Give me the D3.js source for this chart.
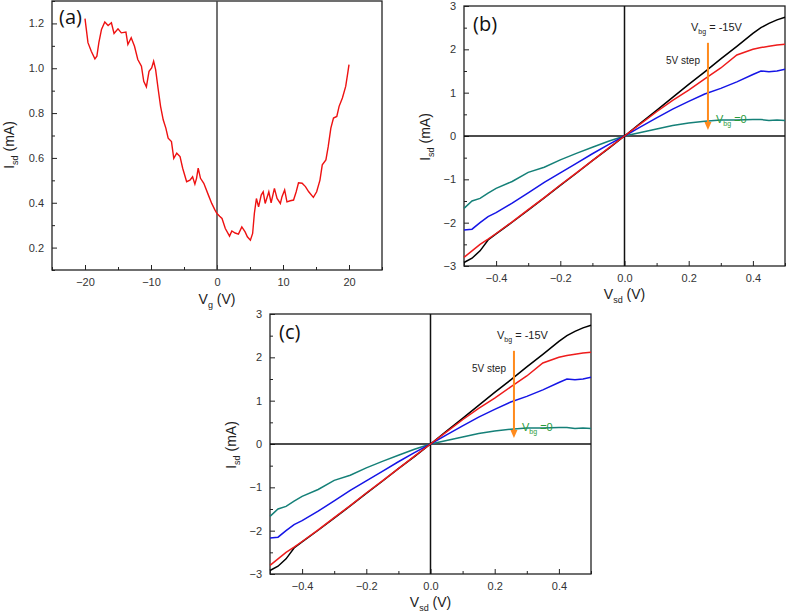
<!DOCTYPE html>
<html><head><meta charset="utf-8">
<script src="https://cdn.jsdelivr.net/npm/d3@7"></script>
<style>
html,body{margin:0;padding:0;background:#fff;}
svg{display:block;}
text{font-family:"Liberation Sans",Arial,sans-serif;}
</style></head>
<body>
<svg id="chart" width="787" height="615"></svg>
<script>
// ---- Panel (a): I_sd vs V_g ----
const VG = [-20.0,-19.55,-19.05,-18.5,-18.2,-17.9,-17.5,-17.0,-16.5,-16.0,-15.6,-15.0,-14.5,-13.8,-13.5,-13.0,-12.5,-12.0,-11.45,-11.1,-10.7,-10.3,-9.9,-9.6,-9.3,-8.9,-8.55,-8.15,-7.75,-7.4,-6.9,-6.55,-6.1,-5.6,-5.2,-4.6,-4.1,-3.7,-3.35,-3.1,-2.85,-2.5,-2.0,-1.3,-0.8,-0.3,0.0,0.4,0.76,1.26,1.9,2.25,2.75,3.25,3.76,4.26,4.6,5.06,5.4,5.66,5.97,6.3,6.7,7.0,7.3,7.85,8.2,8.7,9.1,9.6,9.85,10.25,10.6,11.1,11.6,12.0,12.35,12.9,13.4,13.9,14.6,15.1,15.6,15.95,16.5,16.85,17.25,17.65,18.15,18.5,19.0,19.5,19.85,20.0];
const ISD_A = [1.221,1.114,1.076,1.042,1.054,1.114,1.173,1.206,1.191,1.203,1.155,1.176,1.158,1.161,1.106,1.136,1.098,1.039,1.009,0.942,0.917,0.986,1.001,1.031,0.994,0.904,0.830,0.770,0.733,0.688,0.673,0.598,0.621,0.606,0.554,0.494,0.501,0.516,0.483,0.509,0.554,0.509,0.487,0.434,0.397,0.367,0.352,0.340,0.330,0.285,0.251,0.274,0.265,0.260,0.292,0.270,0.248,0.233,0.263,0.352,0.419,0.382,0.434,0.449,0.397,0.449,0.400,0.464,0.419,0.397,0.427,0.457,0.404,0.409,0.412,0.449,0.489,0.487,0.472,0.449,0.424,0.449,0.501,0.569,0.591,0.650,0.733,0.778,0.785,0.830,0.867,0.919,0.986,1.016];
const A_XTICKS = [-20,-10,0,10,20];
const A_XMINOR = [-25,-15,-5,5,15,25];
const A_YTICKS = [0.2,0.4,0.6,0.8,1.0,1.2];
const A_YMINOR = [0.1,0.3,0.5,0.7,0.9,1.1,1.3];

// ---- Panels (b) and (c): I_sd vs V_sd at several back-gate voltages ----
const VSD = [-0.5,-0.475,-0.45,-0.425,-0.4,-0.35,-0.3,-0.25,-0.2,-0.15,-0.1,-0.05,0,0.05,0.1,0.15,0.2,0.25,0.3,0.35,0.4,0.425,0.45,0.475,0.5];
const I_VBG_M15 = [-2.92,-2.82,-2.65,-2.40,-2.26,-1.99,-1.71,-1.43,-1.14,-0.86,-0.57,-0.29,0,0.30,0.59,0.89,1.19,1.48,1.78,2.07,2.37,2.50,2.60,2.68,2.74];
const I_VBG_M10 = [-2.80,-2.65,-2.50,-2.38,-2.25,-1.98,-1.70,-1.42,-1.13,-0.85,-0.57,-0.28,0,0.28,0.56,0.82,1.06,1.32,1.57,1.87,2.00,2.04,2.07,2.10,2.12];
const I_VBG_M5 = [-2.17,-2.15,-2.00,-1.86,-1.77,-1.55,-1.31,-1.07,-0.85,-0.63,-0.41,-0.20,0,0.21,0.42,0.62,0.80,0.97,1.10,1.25,1.42,1.50,1.48,1.50,1.54];
const I_VBG_0 = [-1.67,-1.50,-1.44,-1.32,-1.21,-1.05,-0.84,-0.72,-0.55,-0.40,-0.26,-0.12,0,0.08,0.16,0.24,0.30,0.34,0.37,0.37,0.38,0.38,0.36,0.37,0.36];
const SERIES_NAMES = ["-15V","-10V","-5V","0V"];
const SERIES_COLORS = ["#000000","#ee1c1c","#1515e6","#158078"];
const IV_XTICKS = [-0.4,-0.2,0.0,0.2,0.4];
const IV_XMINOR = [-0.5,-0.3,-0.1,0.1,0.3,0.5];
const IV_YTICKS = [-3,-2,-1,0,1,2,3];
const IV_YMINOR = [-2.5,-1.5,-0.5,0.5,1.5,2.5];
const ARROW = {x:0.26, y0:2.15, y1:0.14};

const svg = d3.select("#chart");
const TICKC = "#333";

function axes(g, x, y, xt, xm, yt, ym, xfmt, yfmt) {
  const [x0,x1] = x.range(), [y0,y1] = y.range(); // y0 bottom
  const ax = g.append("g").attr("transform",`translate(0,${y0})`)
    .call(d3.axisBottom(x).tickValues(xt).tickSize(-5).tickPadding(8).tickFormat(xfmt));
  const axm = g.append("g").attr("transform",`translate(0,${y0})`)
    .call(d3.axisBottom(x).tickValues(xm).tickSize(-3).tickFormat(""));
  const ay = g.append("g").attr("transform",`translate(${x0},0)`)
    .call(d3.axisLeft(y).tickValues(yt).tickSize(-5).tickPadding(8).tickFormat(yfmt));
  const aym = g.append("g").attr("transform",`translate(${x0},0)`)
    .call(d3.axisLeft(y).tickValues(ym).tickSize(-3).tickFormat(""));
  [ax,axm,ay,aym].forEach(a=>{
    a.select(".domain").remove();
    a.selectAll("line").attr("stroke","#222").attr("stroke-width",1);
    a.selectAll("text").attr("fill",TICKC).style("font-size","11px").style("font-family","Liberation Sans, Arial, sans-serif");
  });
  g.append("rect").attr("x",x0).attr("y",y1).attr("width",x1-x0).attr("height",y0-y1)
    .attr("fill","none").attr("stroke","#222").attr("stroke-width",1.3);
}

function ylabel(g, cx, cy, main, sub, rest) {
  const t = g.append("text").attr("transform",`translate(${cx},${cy}) rotate(-90)`)
    .attr("text-anchor","middle").attr("fill","#222").style("font-size","14px");
  t.append("tspan").text(main);
  t.append("tspan").text(sub).style("font-size","9px").attr("dy",4);
  t.append("tspan").text(rest).attr("dy",-4);
}
function xlabel(g, cx, cy, main, sub, rest) {
  const t = g.append("text").attr("x",cx).attr("y",cy)
    .attr("text-anchor","middle").attr("fill","#222").style("font-size","14px");
  t.append("tspan").text(main);
  t.append("tspan").text(sub).style("font-size","9px").attr("dy",4);
  t.append("tspan").text(rest).attr("dy",-4);
}

// ---------- Panel (a) ----------
{
  const g = svg.append("g");
  const x = d3.scaleLinear().domain([-25,25]).range([52,382]);
  const y = d3.scaleLinear().domain([0.1,1.3]).range([270,1]);
  axes(g, x, y, A_XTICKS, A_XMINOR, A_YTICKS, A_YMINOR, d3.format("d"), d3.format(".1f"));
  g.append("line").attr("x1",x(0)).attr("x2",x(0)).attr("y1",y(0.1)).attr("y2",y(1.3))
    .attr("stroke","#444").attr("stroke-width",1.5);
  const data = VG.map((v,i)=>[v,ISD_A[i]]);
  g.append("path").datum(data).attr("fill","none").attr("stroke","#ee1111").attr("stroke-width",1.4)
    .attr("d", d3.line().x(d=>x(d[0])).y(d=>y(d[1])));
  g.append("text").attr("x",59).attr("y",24).text("(a)").attr("fill","#111")
    .style("font-family","Open Sans, sans-serif").style("font-size","20px");
  xlabel(g, 217, 304, "V", "g", " (V)");
  ylabel(g, 14, 145, "I", "sd", " (mA)");
}

// ---------- Panels (b), (c) ----------
function ivPanel(ox, oy, tag) {
  const g = svg.append("g");
  const x = d3.scaleLinear().domain([-0.5,0.5]).range([ox, ox+321]);
  const y = d3.scaleLinear().domain([-3,3]).range([oy+260, oy]);
  axes(g, x, y, IV_XTICKS, IV_XMINOR, IV_YTICKS, IV_YMINOR, d3.format(".1f"), d3.format("d"));
  g.append("line").attr("x1",x(0)).attr("x2",x(0)).attr("y1",y(-3)).attr("y2",y(3))
    .attr("stroke","#111").attr("stroke-width",1.5);
  g.append("line").attr("x1",x(-0.5)).attr("x2",x(0.5)).attr("y1",y(0)).attr("y2",y(0))
    .attr("stroke","#111").attr("stroke-width",1.5);
  const all = [I_VBG_M15, I_VBG_M10, I_VBG_M5, I_VBG_0];
  const line = d3.line().x(d=>x(d[0])).y(d=>y(d[1])).curve(d3.curveLinear);
  [3,2,0,1].forEach(k=>{
    const data = VSD.map((v,i)=>[v, all[k][i]]);
    g.append("path").datum(data).attr("fill","none").attr("stroke",SERIES_COLORS[k])
      .attr("stroke-width",1.5).attr("d",line);
  });
  // arrow
  const ax = x(ARROW.x);
  g.append("line").attr("x1",ax).attr("x2",ax).attr("y1",y(ARROW.y0)).attr("y2",y(ARROW.y1)-7)
    .attr("stroke","#ff8a1c").attr("stroke-width",2);
  g.append("path").attr("d",`M${ax-3.5},${y(ARROW.y1)-8} L${ax+3.5},${y(ARROW.y1)-8} L${ax},${y(ARROW.y1)} Z`)
    .attr("fill","#ff8a1c");
  // annotations
  const t1 = g.append("text").attr("x",ax-17).attr("y",y(2.42)).attr("fill","#222").style("font-size","11px");
  t1.append("tspan").text("V");
  t1.append("tspan").text("bg").style("font-size","7px").attr("dy",3);
  t1.append("tspan").text(" = -15V").attr("dy",-3);
  g.append("text").attr("x",ax-8).attr("y",y(1.67)).attr("text-anchor","end")
    .attr("fill","#222").style("font-size","10px").text("5V step");
  const t2 = g.append("text").attr("x",ax+8).attr("y",y(0.29)).attr("fill","#2a9a3a").style("font-size","11px");
  t2.append("tspan").text("V");
  t2.append("tspan").text("bg").style("font-size","7px").attr("dy",3);
  t2.append("tspan").text(" =0").attr("dy",-3);
  g.append("text").attr("x",ox+9).attr("y",oy+25).text(tag).attr("fill","#111")
    .style("font-family","Open Sans, sans-serif").style("font-size","20px");
  xlabel(g, x(0), oy+293, "V", "sd", " (V)");
  ylabel(g, ox-34, oy+131, "I", "sd", " (mA)");
}
ivPanel(464, 6, "(b)");
ivPanel(270, 314, "(c)");
</script>
</body></html>
